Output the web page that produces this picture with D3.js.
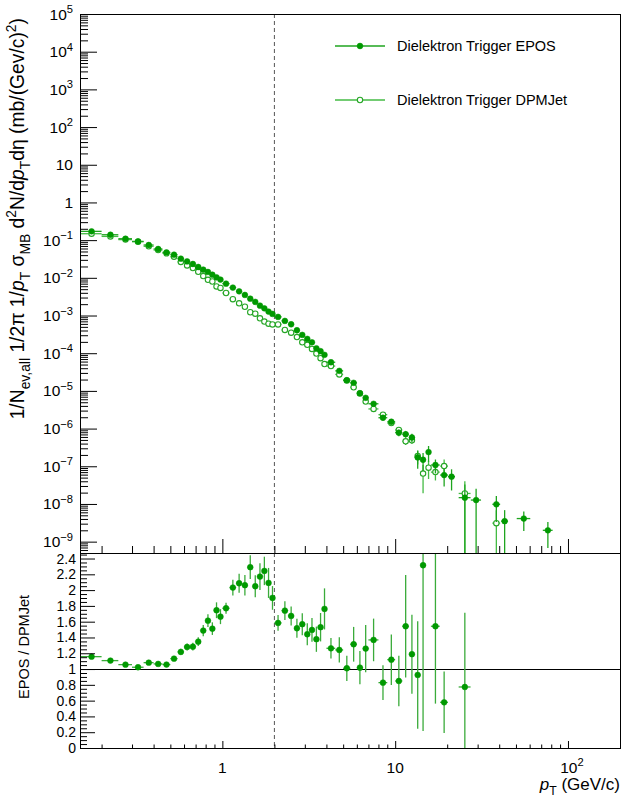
<!DOCTYPE html>
<html>
<head>
<meta charset="utf-8">
<script src="https://cdn.jsdelivr.net/npm/d3@7"></script>
<style>
  body { margin: 0; background: #fff; }
  text { font-family: "Liberation Sans", Arial, Helvetica, sans-serif; fill: #000; }
</style>
</head>
<body>
<script>
// pT bins (centres and half widths)
var ptBins = [0.175,0.225,0.275,0.325,0.375,0.425,0.475,0.525,0.575,0.625,0.675,0.725,0.775,0.825,0.875,0.925,0.975,
  1.05,1.15,1.25,1.35,1.45,1.55,1.65,1.75,1.85,1.95,
  2.1,2.3,2.5,2.7,2.9,3.1,3.3,3.5,3.7,3.9,
  4.25,4.75,5.25,5.75,6.25,6.75,
  7.5,8.5,9.5,10.5,11.5,12.5,13.5,14.5,
  15.6,17.1,19.2,21.2,25.3,29.4,38.5,43,55.5,76.5];
var ptHalf = [0.025,0.025,0.025,0.025,0.025,0.025,0.025,0.025,0.025,0.025,0.025,0.025,0.025,0.025,0.025,0.025,0.025,
  0.05,0.05,0.05,0.05,0.05,0.05,0.05,0.05,0.05,0.05,
  0.1,0.1,0.1,0.1,0.1,0.1,0.1,0.1,0.1,0.1,
  0.25,0.25,0.25,0.25,0.25,0.25,
  0.5,0.5,0.5,0.5,0.5,0.5,0.5,0.5,
  0.5,1,1,1,2,2,2,2,5,5];

// Dielektron Trigger EPOS
var eposVal = [0.171,0.139,0.109,0.0927,0.0743,0.0582,0.0473,0.0411,0.0322,0.0273,0.0233,0.0194,0.0165,0.0143,0.0121,0.0103,0.00896,
  0.00701,0.0055,0.00439,0.00352,0.0028,0.0023,0.00183,0.00155,0.00127,0.0011,
  0.00092,0.00072,0.000586,0.000406,0.000306,0.00024,0.000195,0.000135,0.000113,0.0000905,
  5.76e-5,3.40e-5,1.92e-5,1.64e-5,8.7e-6,6.56e-6,
  4.55e-6,1.94e-6,1.52e-6,7.8e-7,7.1e-7,5.8e-7,1.72e-7,1.49e-7,
  2.38e-7,1.08e-7,5.85e-8,5.3e-8,1.47e-8,1.27e-8,9.8e-9,3.5e-9,4.1e-9,2.0e-9];
var eposRel = [0.02,0.02,0.02,0.02,0.02,0.02,0.02,0.02,0.02,0.02,0.02,0.02,0.02,0.02,0.02,0.02,0.02,
  0.03,0.03,0.03,0.03,0.03,0.03,0.03,0.03,0.03,0.03,
  0.04,0.04,0.04,0.04,0.04,0.04,0.04,0.04,0.04,0.04,
  0.05,0.06,0.07,0.08,0.09,0.1,
  0.1,0.15,0.15,0.2,0.2,0.25,0.5,0.5,
  0.45,0.4,0.5,0.57,1.24,1.0,0.66,0.96,0.53,0.66];

// Dielektron Trigger DPMJet
var dpmVal = [0.148,0.1256,0.1032,0.0906,0.0687,0.0546,0.0447,0.0363,0.0265,0.0213,0.01815,0.0144,0.0111,0.00887,0.0080,0.0059,0.00538,
  0.00396,0.00271,0.0021,0.00171,0.00122,0.00112,0.000843,0.000691,0.000607,0.000579,
  0.000581,0.000414,0.00035,0.000268,0.000195,0.000167,0.00013,9.8e-5,7.4e-5,5.14e-5,
  4.56e-5,2.74e-5,1.9e-5,1.25e-5,8.55e-6,5.21e-6,
  3.32e-6,2.34e-6,1.40e-6,9.2e-7,4.6e-7,4.9e-7,1.86e-7,6.4e-8,
  9.2e-8,7.0e-8,1.01e-7,null,1.9e-8,null,3.1e-9,null,null,null];
var dpmRel = [0.02,0.02,0.02,0.02,0.02,0.02,0.02,0.02,0.02,0.02,0.02,0.02,0.02,0.02,0.02,0.02,0.02,
  0.03,0.03,0.03,0.03,0.03,0.03,0.03,0.03,0.03,0.03,
  0.04,0.04,0.04,0.04,0.04,0.04,0.04,0.04,0.04,0.04,
  0.05,0.06,0.07,0.08,0.09,0.1,
  0.1,0.15,0.15,0.15,0.2,0.2,0.4,0.7,
  0.5,0.4,0.5,null,1.1,null,1.2,null,null,null];

// EPOS / DPMJet ratio
var ratioPt = [0.175,0.225,0.275,0.325,0.375,0.425,0.475,0.525,0.575,0.625,0.675,0.725,0.775,0.825,0.875,0.925,0.975,
  1.05,1.15,1.25,1.35,1.45,1.55,1.65,1.75,1.85,1.95,
  2.1,2.3,2.5,2.7,2.9,3.1,3.3,3.5,3.7,3.9,
  4.25,4.75,5.25,5.75,6.25,6.75,
  7.5,8.5,9.5,10.5,11.5,12.5,13.5,14.5,
  17.1,19.2,25.3];
var ratioHalf = [0.025,0.025,0.025,0.025,0.025,0.025,0.025,0.025,0.025,0.025,0.025,0.025,0.025,0.025,0.025,0.025,0.025,
  0.05,0.05,0.05,0.05,0.05,0.05,0.05,0.05,0.05,0.05,
  0.1,0.1,0.1,0.1,0.1,0.1,0.1,0.1,0.1,0.1,
  0.25,0.25,0.25,0.25,0.25,0.25,
  0.5,0.5,0.5,0.5,0.5,0.5,0.5,0.5,
  1,1,2];
var ratioVal = [1.157,1.107,1.056,1.023,1.081,1.065,1.057,1.132,1.217,1.28,1.284,1.347,1.487,1.613,1.512,1.745,1.664,
  1.770,2.032,2.087,2.062,2.29,2.049,2.171,2.243,2.091,1.901,
  1.584,1.74,1.673,1.517,1.568,1.441,1.496,1.378,1.53,1.762,
  1.263,1.242,1.01,1.314,1.018,1.259,
  1.369,0.828,1.119,0.849,1.542,1.188,0.925,2.315,
  1.542,0.579,0.773];
var ratioErr = [0.02,0.02,0.02,0.02,0.02,0.02,0.02,0.03,0.04,0.045,0.05,0.055,0.07,0.08,0.08,0.1,0.095,
  0.07,0.1,0.12,0.13,0.15,0.14,0.17,0.18,0.19,0.15,
  0.1,0.12,0.12,0.12,0.14,0.14,0.15,0.16,0.18,0.26,
  0.13,0.16,0.16,0.22,0.21,0.3,
  0.27,0.22,0.32,0.32,0.65,0.5,0.68,2.1,
  0.98,0.39,0.94];

// axis tick labels
var yTopDecades = [-9,-8,-7,-6,-5,-4,-3,-2,-1,0,1,2,3,4,5];
var yBotTicks = [0,0.2,0.4,0.6,0.8,1,1.2,1.4,1.6,1.8,2,2.2,2.4];
var xDecades = [0,1,2];

var W = 623, H = 798;
var left = 80, right = 620;
var topY0 = 14, topY1 = 553, botY1 = 748;

var eposMarker = "#009900", eposLine = "#1fa51f";
var dpmMarker = "#26a626", dpmLine = "#44bb44";

// set the ranges
var x = d3.scaleLog().domain([0.15, 200]).range([left, right]);
var yTop = d3.scaleLog().domain([5e-10, 1e5]).range([topY1, topY0]);
var yBot = d3.scaleLinear().domain([0, 2.47]).range([botY1, topY1]);

var svg = d3.select("body").append("svg")
    .attr("width", W)
    .attr("height", H);

var defs = svg.append("defs");
defs.append("clipPath").attr("id", "clipTop").append("rect")
    .attr("x", left).attr("y", topY0).attr("width", right - left).attr("height", topY1 - topY0);
defs.append("clipPath").attr("id", "clipBot").append("rect")
    .attr("x", left).attr("y", topY1).attr("width", right - left).attr("height", botY1 - topY1);

// minor ticks 2..9 for every decade inside [lo, hi]
function logMinor(lo, hi) {
  var out = [];
  for (var e = Math.floor(Math.log10(lo)); e <= Math.ceil(Math.log10(hi)); e++) {
    for (var k = 2; k < 10; k++) {
      var v = +(k + "e" + e);
      if (v >= lo && v <= hi) out.push(v);
    }
  }
  return out;
}

// text with sub/superscripts and italics
function richText(sel, parts, size) {
  var shift = 0;
  parts.forEach(function(p) {
    var target = p.sub ? size * 0.32 : (p.sup ? -size * 0.42 : 0);
    var ts = sel.append("tspan").attr("dy", target - shift).text(p.t);
    if (p.sub || p.sup) ts.attr("font-size", size * 0.72);
    if (p.it) ts.attr("font-style", "italic");
    shift = target;
  });
}

function drawSeries(g, data, yScale, markerCol, lineCol, open) {
  var lo = function(d) { return yScale === yTop ? Math.max(d.v - d.e, 1e-14) : d.v - d.e; };
  g.selectAll(null).data(data).enter().append("line")
      .attr("x1", function(d) { return x(d.pt); })
      .attr("x2", function(d) { return x(d.pt); })
      .attr("y1", function(d) { return yScale(lo(d)); })
      .attr("y2", function(d) { return yScale(d.v + d.e); })
      .attr("stroke", lineCol).attr("stroke-width", 1.3);
  g.selectAll(null).data(data).enter().append("line")
      .attr("x1", function(d) { return x(d.pt - d.hw); })
      .attr("x2", function(d) { return x(d.pt + d.hw); })
      .attr("y1", function(d) { return yScale(d.v); })
      .attr("y2", function(d) { return yScale(d.v); })
      .attr("stroke", lineCol).attr("stroke-width", 1.3);
  g.selectAll(null).data(data).enter().append("circle")
      .attr("cx", function(d) { return x(d.pt); })
      .attr("cy", function(d) { return yScale(d.v); })
      .attr("r", open ? 2.7 : 2.9)
      .attr("fill", open ? "#fff" : markerCol)
      .attr("stroke", markerCol)
      .attr("stroke-width", open ? 1.1 : 0.5);
}

// format the data
var epos = ptBins.map(function(p, i) {
  return {pt: p, hw: ptHalf[i], v: eposVal[i], e: eposVal[i] * eposRel[i]};
});
var dpm = ptBins.map(function(p, i) {
  return {pt: p, hw: ptHalf[i], v: dpmVal[i], e: dpmVal[i] * dpmRel[i]};
}).filter(function(d) { return d.v != null; });
var ratio = ratioPt.map(function(p, i) {
  return {pt: p, hw: ratioHalf[i], v: ratioVal[i], e: ratioErr[i]};
});

/** TOP PANEL **/
var topG = svg.append("g").attr("clip-path", "url(#clipTop)");
topG.append("line")
    .attr("x1", x(2)).attr("x2", x(2)).attr("y1", topY0).attr("y2", topY1)
    .attr("stroke", "#555").attr("stroke-dasharray", "4,3");
drawSeries(topG, dpm, yTop, dpmMarker, dpmLine, true);
drawSeries(topG, epos, yTop, eposMarker, eposLine, false);

/** RATIO PANEL **/
var botG = svg.append("g").attr("clip-path", "url(#clipBot)");
botG.append("line")
    .attr("x1", x(2)).attr("x2", x(2)).attr("y1", topY1).attr("y2", botY1)
    .attr("stroke", "#555").attr("stroke-dasharray", "4,3");
var oneY = Math.round(yBot(1)) + 0.5;
botG.append("line")
    .attr("x1", left).attr("x2", right).attr("y1", oneY).attr("y2", oneY)
    .attr("stroke", "#000");
drawSeries(botG, ratio, yBot, eposMarker, "#3aab3a", false);

// frames
svg.append("rect").attr("x", left + 0.5).attr("y", topY0 + 0.5)
    .attr("width", right - left).attr("height", topY1 - topY0)
    .attr("fill", "none").attr("stroke", "#000");
svg.append("rect").attr("x", left + 0.5).attr("y", topY1 + 0.5)
    .attr("width", right - left).attr("height", botY1 - topY1)
    .attr("fill", "none").attr("stroke", "#000");

function tickAxis(axis, tx, ty) {
  var g = svg.append("g").attr("transform", "translate(" + tx + "," + ty + ")").call(axis);
  g.select(".domain").remove();
  g.selectAll("line").attr("stroke", "#000");
  return g;
}

// y axis ticks, top panel
var yMajor = yTopDecades.map(function(e) { return +("1e" + e); });
tickAxis(d3.axisLeft(yTop).tickValues(yMajor).tickSize(-17).tickFormat(""), left, 0);
tickAxis(d3.axisLeft(yTop).tickValues(logMinor(5e-10, 1e5)).tickSize(-8).tickFormat(""), left, 0);

// y axis ticks, ratio panel
tickAxis(d3.axisLeft(yBot).tickValues(yBotTicks).tickSize(-15).tickFormat(""), left, 0);
tickAxis(d3.axisLeft(yBot).tickValues(d3.range(0.05, 2.46, 0.05).filter(function(v) {
  return Math.abs(v / 0.2 - Math.round(v / 0.2)) > 0.01; })).tickSize(-7).tickFormat(""), left, 0);

// x axis ticks
var xMajor = xDecades.map(function(e) { return +("1e" + e); });
var xMinor = logMinor(0.15, 200);
tickAxis(d3.axisBottom(x).tickValues(xMajor).tickSize(-14).tickFormat(""), 0, topY1);
tickAxis(d3.axisBottom(x).tickValues(xMinor).tickSize(-7).tickFormat(""), 0, topY1);
tickAxis(d3.axisBottom(x).tickValues(xMajor).tickSize(-7).tickFormat(""), 0, botY1);
tickAxis(d3.axisBottom(x).tickValues(xMinor).tickSize(-3.5).tickFormat(""), 0, botY1);

// tick labels
function powerParts(e) {
  if (e === 0) return [{t: "1"}];
  if (e === 1) return [{t: "10"}];
  return [{t: "10"}, {t: (e < 0 ? "\u2212" + (-e) : "" + e), sup: true}];
}
yTopDecades.forEach(function(e) {
  var t = svg.append("text")
      .attr("x", 73).attr("y", yTop(+("1e" + e)) + 5.5)
      .attr("text-anchor", "end").attr("font-size", 15.5);
  richText(t, powerParts(e), 15.5);
});
yBotTicks.forEach(function(v) {
  svg.append("text")
      .attr("x", 76).attr("y", yBot(v) + 5)
      .attr("text-anchor", "end").attr("font-size", 14)
      .text(d3.format("~g")(v));
});
xDecades.forEach(function(e) {
  var t = svg.append("text")
      .attr("x", x(+("1e" + e)) + (e === 2 ? 4 : 0)).attr("y", 773)
      .attr("text-anchor", "middle").attr("font-size", 15.5);
  richText(t, powerParts(e), 15.5);
});

// axis titles
var xt = svg.append("text").attr("x", 620).attr("y", 790)
    .attr("text-anchor", "end").attr("font-size", 17);
richText(xt, [{t: "p", it: true}, {t: "T", sub: true}, {t: " (GeV/c)"}], 17);

var yt = svg.append("text").attr("transform", "translate(24,18) rotate(-90)")
    .attr("text-anchor", "end").attr("font-size", 19.3);
richText(yt, [
  {t: "1/N"}, {t: "ev,all", sub: true}, {t: " 1/2\u03c0 1/"}, {t: "p", it: true}, {t: "T", sub: true},
  {t: " \u03c3"}, {t: "MB", sub: true}, {t: " d"}, {t: "2", sup: true}, {t: "N/d"},
  {t: "p", it: true}, {t: "T", sub: true}, {t: "d\u03b7 (mb/(Gev/c)"}, {t: "2", sup: true}, {t: ")"}
], 19.3);

svg.append("text").attr("transform", "translate(29,595) rotate(-90)")
    .attr("text-anchor", "end").attr("font-size", 14.5)
    .text("EPOS / DPMJet");

// legend
var legend = [
  {label: "Dielektron Trigger EPOS", y: 46, marker: eposMarker, line: eposLine, open: false},
  {label: "Dielektron Trigger DPMJet", y: 100, marker: dpmMarker, line: dpmLine, open: true}
];
legend.forEach(function(d) {
  svg.append("line").attr("x1", 335).attr("x2", 385).attr("y1", d.y).attr("y2", d.y)
      .attr("stroke", d.line).attr("stroke-width", 1.3);
  svg.append("circle").attr("cx", 360).attr("cy", d.y).attr("r", d.open ? 2.7 : 2.9)
      .attr("fill", d.open ? "#fff" : d.marker).attr("stroke", d.marker)
      .attr("stroke-width", d.open ? 1.1 : 0.5);
  svg.append("text").attr("x", 397).attr("y", d.y + 5).attr("font-size", 14.5).text(d.label);
});
</script>
</body>
</html>
